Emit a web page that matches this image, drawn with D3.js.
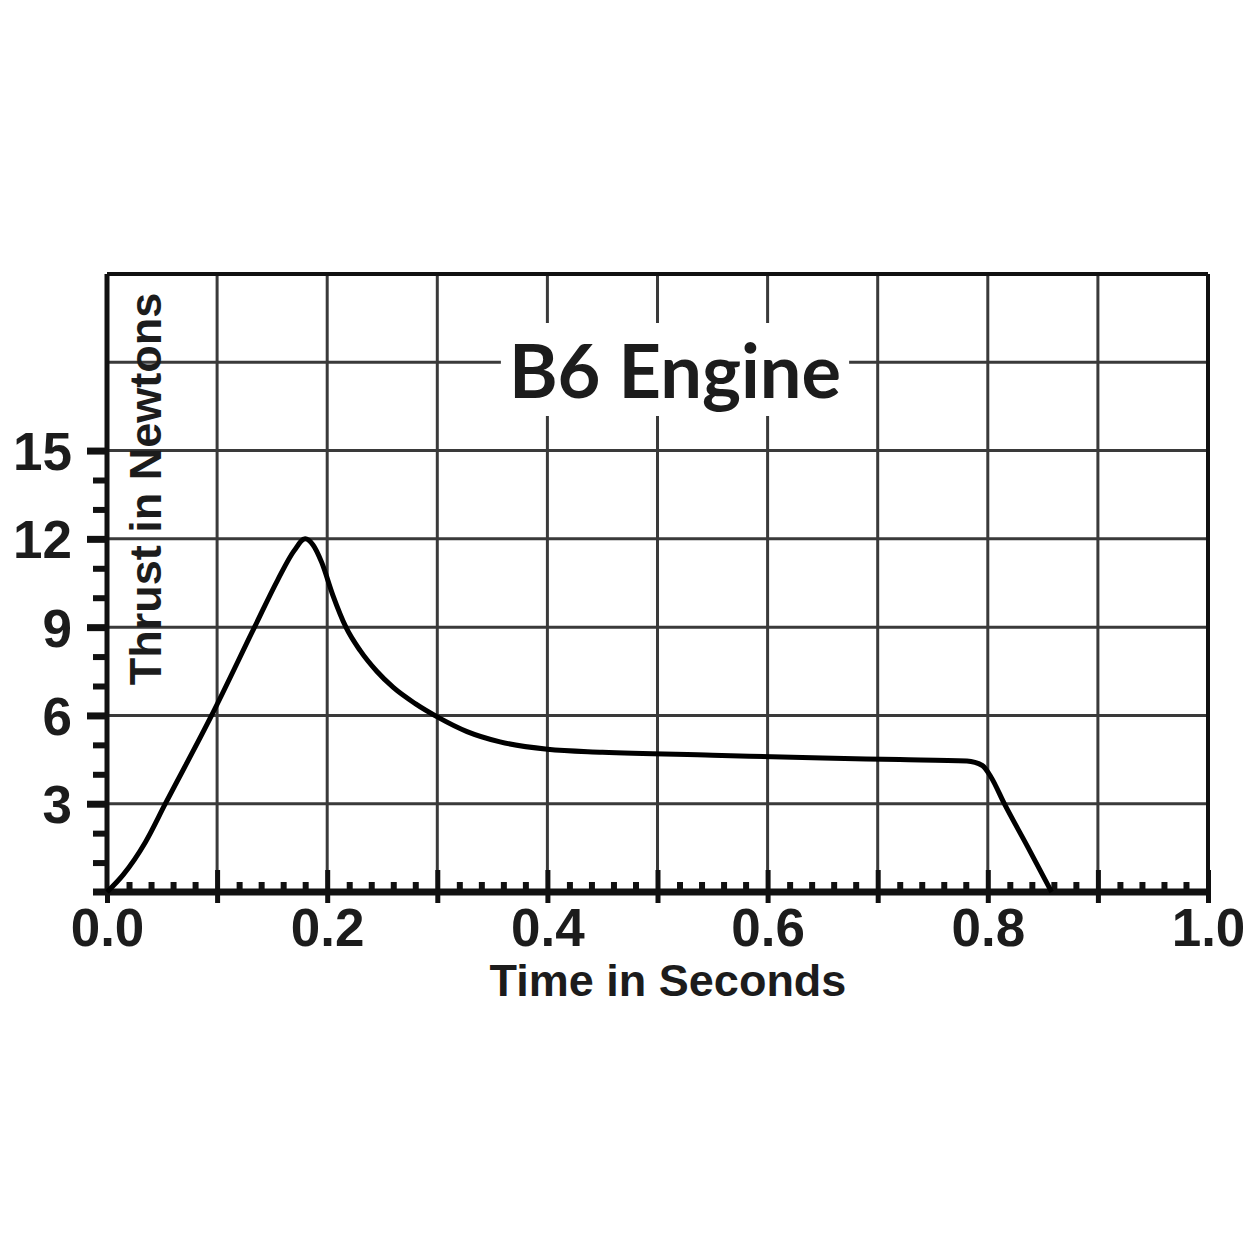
<!DOCTYPE html>
<html>
<head>
<meta charset="utf-8">
<script src="https://cdn.jsdelivr.net/npm/d3@7"></script>
<style>
  body { margin: 0; background: #fff; }
  .lbl { font-family: "Liberation Sans", Arial, sans-serif; font-weight: bold; fill: #1c1c1c; }
</style>
</head>
<body>
<div id="chart"></div>
<script>
// thrust curve of the B6 engine
var timeS   = [0, 0.015, 0.035, 0.053, 0.095, 0.134, 0.155, 0.17, 0.18, 0.187, 0.195, 0.205, 0.217, 0.23, 0.245, 0.26, 0.28, 0.30, 0.327, 0.357, 0.40, 0.45, 0.55, 0.65, 0.72, 0.781, 0.795, 0.803, 0.815, 0.836, 0.858];
var thrustN = [0, 0.6, 1.7, 3.0, 6.0, 9.0, 10.6, 11.6, 12.0, 11.8, 11.2, 10.1, 9.0, 8.2, 7.5, 6.95, 6.4, 5.95, 5.45, 5.1, 4.85, 4.75, 4.65, 4.55, 4.5, 4.45, 4.3, 3.9, 3.0, 1.55, 0];

var xTicks = [0, 0.1, 0.2, 0.3, 0.4, 0.5, 0.6, 0.7, 0.8, 0.9, 1.0];
var xTickLabels = ["0.0", "", "0.2", "", "0.4", "", "0.6", "", "0.8", "", "1.0"];
var xMinor = [0.02, 0.04, 0.06, 0.08];          // within each tenth
var yGrid = [3, 6, 9, 12, 15, 18];
var yTicks = [3, 6, 9, 12, 15];
var yMinor = [1, 2, 4, 5, 7, 8, 10, 11, 13, 14];

var width = 1250, height = 1250;

var svg = d3.select("#chart").append("svg")
    .attr("width", width)
    .attr("height", height);

var x = d3.scaleLinear().domain([0, 1]).range([107, 1208]);
var y = d3.scaleLinear().domain([0, 21]).range([892, 274]);

// grid
svg.append("g").selectAll("line")
  .data(xTicks.slice(1, -1))
  .enter().append("line")
    .attr("x1", d => x(d)).attr("x2", d => x(d))
    .attr("y1", y(21)).attr("y2", y(0))
    .attr("stroke", "#3a3a3a").attr("stroke-width", 3);

svg.append("g").selectAll("line")
  .data(yGrid)
  .enter().append("line")
    .attr("x1", x(0)).attr("x2", x(1))
    .attr("y1", d => y(d)).attr("y2", d => y(d))
    .attr("stroke", "#3a3a3a").attr("stroke-width", 3);

// title with white box knocking out the grid
var title = svg.append("text")
    .attr("x", 675).attr("y", 398)
    .attr("text-anchor", "middle")
    .style("font-family", "Lato, 'Open Sans', sans-serif")
    .style("font-weight", "bold")
    .style("font-size", "74px")
    .style("fill", "#1c1c1c")
    .text("B6 Engine");
var bb = title.node().getBBox();
svg.insert("rect", "text")
    .attr("x", bb.x - 8).attr("y", bb.y - 2)
    .attr("width", bb.width + 16).attr("height", bb.height + 4)
    .attr("fill", "#fff");

// frame
svg.append("line").attr("x1", x(0)).attr("x2", x(1)).attr("y1", y(21)).attr("y2", y(21))
    .attr("stroke", "#111").attr("stroke-width", 4);
svg.append("line").attr("x1", x(1)).attr("x2", x(1)).attr("y1", y(21)).attr("y2", y(0))
    .attr("stroke", "#111").attr("stroke-width", 4);
svg.append("line").attr("x1", x(0)).attr("x2", x(0)).attr("y1", y(21)).attr("y2", y(0))
    .attr("stroke", "#111").attr("stroke-width", 5);

// y axis ticks
var yAxis = svg.append("g")
    .attr("transform", "translate(" + x(0) + ",0)")
    .call(d3.axisLeft(y).tickValues(yTicks).tickSize(20).tickPadding(15));
yAxis.select(".domain").remove();
yAxis.selectAll("line").attr("stroke", "#111").attr("stroke-width", 7);
yAxis.selectAll("text").attr("class", "lbl").attr("dy", "0.36em").style("font-size", "53px");

var yAxisMinor = svg.append("g")
    .attr("transform", "translate(" + x(0) + ",0)")
    .call(d3.axisLeft(y).tickValues(yMinor).tickSize(14).tickFormat(""));
yAxisMinor.select(".domain").remove();
yAxisMinor.selectAll("line").attr("stroke", "#111").attr("stroke-width", 6);

// x axis
var xMinorAll = [];
xTicks.slice(0, -1).forEach(function(t) {
  xMinor.forEach(function(m) { xMinorAll.push(+(t + m).toFixed(2)); });
});

var xAxis = svg.append("g")
    .attr("transform", "translate(0," + y(0) + ")")
    .call(d3.axisBottom(x).tickValues(xTicks).tickSize(11).tickPadding(5)
      .tickFormat(function(d, i) { return xTickLabels[i]; }));
xAxis.select(".domain").remove();
xAxis.selectAll("line").attr("stroke", "#111").attr("stroke-width", 5);
xAxis.selectAll("text").attr("class", "lbl").style("font-size", "53px");

var xAxisUp = svg.append("g")
    .attr("transform", "translate(0," + y(0) + ")")
    .call(d3.axisTop(x).tickValues(xTicks.slice(1)).tickSize(22).tickFormat(""));
xAxisUp.select(".domain").remove();
xAxisUp.selectAll("line").attr("stroke", "#111").attr("stroke-width", 5);

var xAxisMinor = svg.append("g")
    .attr("transform", "translate(0," + y(0) + ")")
    .call(d3.axisTop(x).tickValues(xMinorAll).tickSize(10).tickFormat(""));
xAxisMinor.select(".domain").remove();
xAxisMinor.selectAll("line").attr("stroke", "#111").attr("stroke-width", 6);

svg.append("line").attr("x1", 93).attr("x2", x(1)).attr("y1", y(0)).attr("y2", y(0))
    .attr("stroke", "#111").attr("stroke-width", 7);

// thrust curve
var pts = timeS.map(function(t, i) { return [t, thrustN[i]]; });
var line = d3.line()
    .x(d => x(d[0]))
    .y(d => y(d[1]))
    .curve(d3.curveMonotoneX);
svg.append("path")
    .datum(pts)
    .attr("d", line)
    .attr("fill", "none")
    .attr("stroke", "#000")
    .attr("stroke-width", 5)
    .attr("stroke-linejoin", "round");

// axis titles
svg.append("text")
    .attr("class", "lbl")
    .attr("x", 668).attr("y", 996)
    .attr("text-anchor", "middle")
    .style("font-size", "45px")
    .text("Time in Seconds");

svg.append("text")
    .attr("class", "lbl")
    .attr("transform", "translate(161,489) rotate(-90)")
    .attr("text-anchor", "middle")
    .style("font-size", "45px")
    .text("Thrust in Newtons");
</script>
</body>
</html>
